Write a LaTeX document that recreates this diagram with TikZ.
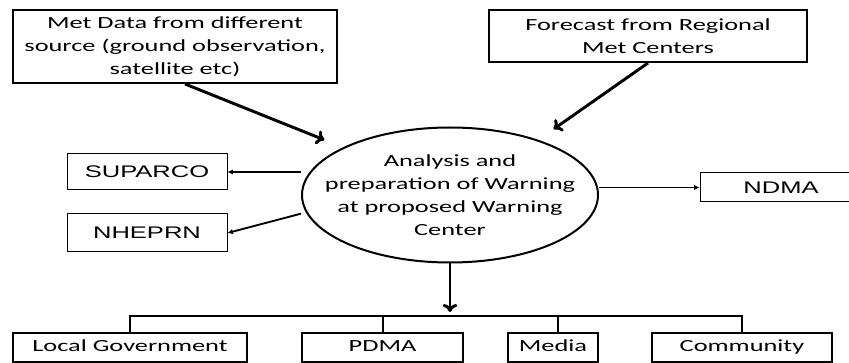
\documentclass[tikz,border=0pt]{standalone}
\usepackage{fontspec}
\setmainfont[FakeStretch=1.55]{Carlito}
\newfontfamily\arialfont[FakeStretch=1.52]{Liberation Sans}
\usetikzlibrary{arrows.meta,shapes.geometric}
\tikzset{bigbox/.style = {draw, line width=1.5pt, align=center, inner sep=0pt, font=\fontsize{12.75}{17.25}\selectfont}}
\tikzset{lowbox/.style = {draw, line width=1.5pt, inner sep=0pt, text height=9pt, text depth=2.5pt, minimum height=21.75pt, font=\fontsize{12.75}{17.25}\selectfont}}
\tikzset{smallbox/.style = {draw, line width=0.75pt, inner sep=0pt, text height=9pt, text depth=0pt, font=\arialfont\fontsize{12.6}{15}\selectfont}}
\tikzset{bigarrow/.style = {line width=2.2pt, -{To[length=6pt,width=11pt]}}}
\tikzset{smallarrow/.style = {line width=1.4pt, -{Latex[length=4pt,width=4pt]}}}

\begin{document}
\begin{tikzpicture}[x=0.75pt, y=-0.75pt]
      \useasboundingbox (0,0) rectangle (849,363);
      % sources
      \node [bigbox, minimum width=243pt, minimum height=54.75pt] (met) at (175,46.5) {Met Data from different\\source (ground observation,\\satellite etc)};
      \node [bigbox, minimum width=238.5pt, minimum height=39pt] (fc) at (648,36) {Forecast from Regional\\Met Centers};
      % warning center
      \node [bigbox, ellipse, inner xsep=-17pt, inner ysep=-12pt, minimum width=222pt, minimum height=101.25pt] (ana) at (450,195) {Analysis and\\preparation of Warning\\at proposed Warning\\Center};
      % side receivers
      \node [smallbox, minimum width=120pt, minimum height=27pt] (sup) at (147,172) {SUPARCO};
      \node [smallbox, minimum width=120pt, minimum height=28.5pt] (nhe) at (147,233) {NHEPRN};
      \node [smallbox, minimum width=121.5pt, minimum height=21.75pt] (ndma) at (781,187.5) {NDMA};
      % lower receivers
      \node [lowbox, minimum width=175.5pt] (lg) at (130,347.5) {Local Government};
      \node [lowbox, minimum width=120.75pt] (pdma) at (382.5,347.5) {PDMA};
      \node [lowbox, minimum width=67.5pt] (media) at (553,347.5) {Media};
      \node [lowbox, minimum width=135pt] (com) at (742,347.5) {Community};
      \coordinate (bus) at (450,316);

      \draw [bigarrow, shorten >=15pt] ([xshift=7.5pt]met.south) -- (ana.156);
      \draw [bigarrow, shorten >=14pt] (fc.south) -- (ana.32);
      \draw [smallarrow] (ana.west |- sup.east) -- (sup.east);
      \draw [smallarrow] ([yshift=-14pt]ana.west) -- (nhe.east);
      \draw [smallarrow] (ana.east |- ndma.west) -- (ndma.west);
      \draw [bigarrow, shorten >=3pt] (ana.south) -- (bus);
      \draw [line width=1.5pt] (lg.north) |- (bus) -| (com.north);
      \draw [line width=1.5pt] (pdma.north) -- (pdma.north |- bus);
      \draw [line width=1.5pt] ([xshift=3.75pt]media.north) -- ([xshift=3.75pt]media.north |- bus);
    \end{tikzpicture}
\end{document}
